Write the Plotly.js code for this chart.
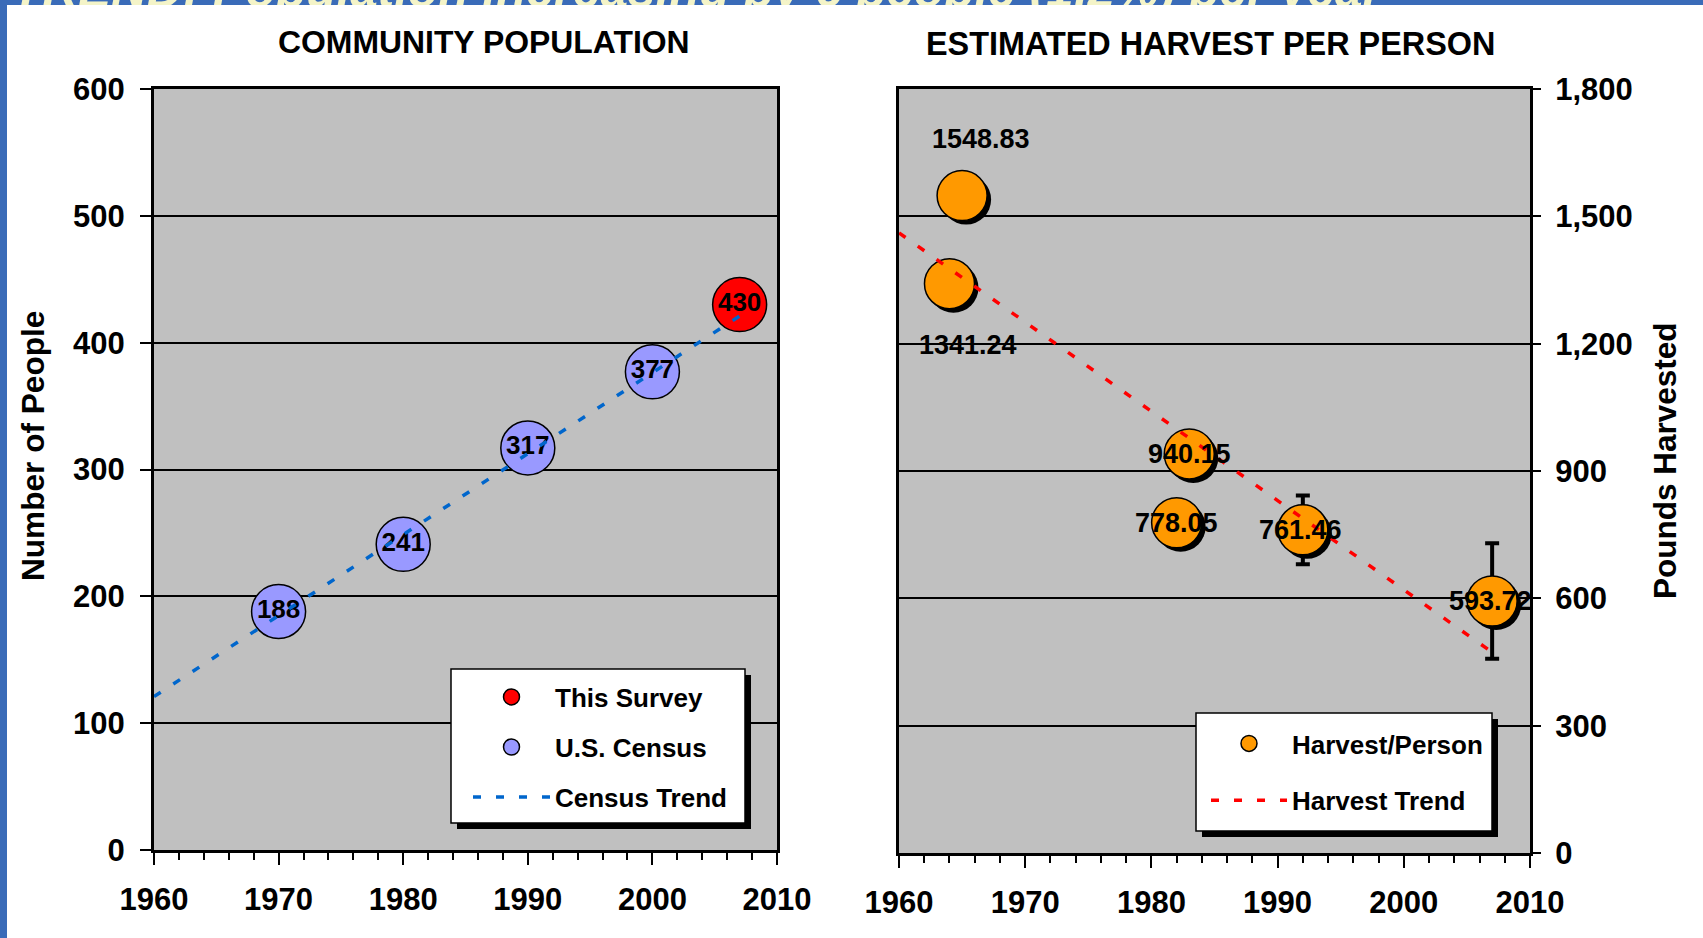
<!DOCTYPE html>
<html><head><meta charset="utf-8">
<script src="https://cdn.plot.ly/plotly-3.0.1.min.js"></script>
<style>
html,body{margin:0;padding:0;width:1703px;height:938px;overflow:hidden;background:rgb(58,107,184);}
#hdr{position:absolute;left:12px;top:-35px;font:italic bold 49.5px/49.5px "Liberation Sans",Arial,sans-serif;color:#F4F4C8;white-space:nowrap;}
#plot{position:absolute;left:7px;top:5px;width:1696px;height:933px;}
</style></head><body>
<div id="hdr">TREND: Population increasing by 6 people (1.2%) per year</div>
<div id="plot"></div>
<script>
// ---- data ----
const surveyYears = [2007];
const surveyPop = [430];
const censusYears = [1970, 1980, 1990, 2000];
const censusPop = [188, 241, 317, 377];
const censusTrendYears = [1960, 2007];
const censusTrendPop = [121, 421];

const harvestYears = [1964, 1965, 1982, 1983, 1992, 2007];
const harvestLbs = [1341.24, 1548.83, 778.05, 940.15, 761.46, 593.72];
const harvestErr = [0, 0, 0, 0, 81, 136];
const harvestTrendYears = [1960, 2007];
const harvestTrendLbs = [1461, 473];

const xTickVals = [1960, 1970, 1980, 1990, 2000, 2010];

// ---- layout helpers (pixel -> paper) ----
const W = 1696, H = 933, L = 147, R = 173, T = 84, B = 85;
const PW = W - L - R, PH = H - T - B;
const px = x => (x - L) / PW;
const py = y => (H - B - y) / PH;
const F = '"Liberation Sans", Arial, sans-serif';
const bold = (s) => ({family: F, size: s, weight: 700, color: '#000'});

const xBase = {
  range: [1960, 2010], tickvals: xTickVals, ticks: 'outside', ticklen: 12, tickwidth: 2, tickcolor: '#000',
  minor: {dtick: 2, ticks: 'outside', ticklen: 7, tickwidth: 2, tickcolor: '#000', showgrid: false},
  showline: true, linewidth: 3, linecolor: '#000', mirror: true, showgrid: false, zeroline: false,
  tickfont: bold(31), ticklabelstandoff: 8, fixedrange: true
};
const yBase = {
  ticks: 'outside', tickwidth: 2, tickcolor: '#000', showline: true, linewidth: 3, linecolor: '#000', mirror: true,
  showgrid: true, gridcolor: '#000', gridwidth: 2, zeroline: false, tickfont: bold(31), fixedrange: true
};

const traces = [
  {name: 'This Survey', x: surveyYears, y: surveyPop, type: 'scatter', mode: 'markers',
   marker: {size: 54, color: '#FF0000', line: {color: '#000', width: 1.5}},
   legend: 'legend', legendgroup: 'a', xaxis: 'x', yaxis: 'y', hoverinfo: 'skip'},
  {name: 'U.S. Census', x: censusYears, y: censusPop, type: 'scatter', mode: 'markers',
   marker: {size: 54, color: '#9999FF', line: {color: '#000', width: 1.5}},
   legend: 'legend', legendgroup: 'b', xaxis: 'x', yaxis: 'y', hoverinfo: 'skip'},
  {x: censusYears.concat(surveyYears), y: censusPop.concat(surveyPop), type: 'scatter', mode: 'text',
   text: censusPop.concat(surveyPop).map(String), textposition: 'middle center', textfont: bold(26),
   showlegend: false, xaxis: 'x', yaxis: 'y', hoverinfo: 'skip'},
  {name: 'Census Trend', x: censusTrendYears, y: censusTrendPop, type: 'scatter', mode: 'lines',
   line: {color: '#0066CC', width: 3.5, dash: '8px,15px'},
   legend: 'legend', legendgroup: 'c', xaxis: 'x', yaxis: 'y', hoverinfo: 'skip'},

  // invisible anchor trace so the right-hand base subplot (x2/y2) exists
  {x: harvestYears, y: harvestLbs, type: 'scatter', mode: 'markers', marker: {size: 1, opacity: 0},
   showlegend: false, xaxis: 'x2', yaxis: 'y2', hoverinfo: 'skip'},
  // shadow of harvest markers (same data, drawn through offset overlay axes)
  {x: harvestYears, y: harvestLbs, type: 'scatter', mode: 'markers',
   marker: {size: 50, color: '#000'}, showlegend: false, xaxis: 'x3', yaxis: 'y3', hoverinfo: 'skip'},
  {name: 'Harvest/Person', x: harvestYears, y: harvestLbs, type: 'scatter', mode: 'markers',
   marker: {size: 50, color: '#FF9900', line: {color: '#000', width: 1.5}},
   error_y: {type: 'data', array: harvestErr, visible: true, color: '#000', thickness: 4, width: 7},
   legend: 'legend2', legendgroup: 'd', xaxis: 'x4', yaxis: 'y4', hoverinfo: 'skip'},
  {name: 'Harvest Trend', x: harvestTrendYears, y: harvestTrendLbs, type: 'scatter', mode: 'lines',
   line: {color: '#FF0000', width: 3.5, dash: '8px,15px'},
   legend: 'legend2', legendgroup: 'e', xaxis: 'x4', yaxis: 'y4', hoverinfo: 'skip'}
];

// harvest value labels (style offsets only)
const labelShiftX = [19, 19, 0, 0, -2, -2];
const labelShiftY = [-61, 57, 0, 0, 0, 0];
const annotations = harvestYears.map((yr, i) => ({
  x: yr, y: harvestLbs[i], xref: 'x4', yref: 'y4', text: harvestLbs[i].toFixed(2), showarrow: false,
  xshift: labelShiftX[i], yshift: labelShiftY[i], font: bold(27), xanchor: 'center', yanchor: 'middle'
}));
annotations.push(
  {text: 'COMMUNITY POPULATION', xref: 'paper', yref: 'paper', x: px(476.5), y: py(36.5), showarrow: false,
   xanchor: 'center', yanchor: 'middle', font: bold(31.9)},
  {text: 'ESTIMATED HARVEST PER PERSON', xref: 'paper', yref: 'paper', x: px(1203), y: py(39.5), showarrow: false,
   xanchor: 'center', yanchor: 'middle', font: bold(32.4)},
  {text: 'Number of People', xref: 'paper', yref: 'paper', x: px(26), y: py(441), showarrow: false,
   textangle: -90, xanchor: 'center', yanchor: 'middle', font: bold(31.6)},
  {text: 'Pounds Harvested', xref: 'paper', yref: 'paper', x: px(1658), y: py(455), showarrow: false,
   textangle: -90, xanchor: 'center', yanchor: 'middle', font: bold(31.5)}
);

const box = (x0, y0, x1, y1, fill, lw) => ({type: 'rect', xref: 'paper', yref: 'paper', layer: 'above',
  x0: px(x0), x1: px(x1), y0: py(y1), y1: py(y0), fillcolor: fill, line: {color: '#000', width: lw}});
const shapes = [
  box(450, 670, 744, 824, '#000', 0),
  box(444, 664, 738, 818, '#fff', 1.5),
  box(1195, 714, 1491, 832, '#000', 0),
  box(1189, 708, 1485, 826, '#fff', 1.5)
];

const legendBase = {bgcolor: 'rgba(0,0,0,0)', borderwidth: 0, font: bold(26), traceorder: 'grouped',
  xanchor: 'left', yanchor: 'top', itemsizing: 'trace', xref: 'paper', yref: 'paper', itemclick: false, itemdoubleclick: false};

const layout = {
  width: W, height: H, margin: {l: L, r: R, t: T, b: B, pad: 0},
  paper_bgcolor: '#fff', plot_bgcolor: '#C0C0C0', showlegend: true,
  xaxis: Object.assign({}, xBase, {domain: [0, px(770)], anchor: 'y'}),
  yaxis: Object.assign({}, yBase, {domain: [py(845), 1], range: [0, 600], dtick: 100, ticklen: 11,
    ticklabelstandoff: 9, anchor: 'x'}),
  xaxis2: Object.assign({}, xBase, {domain: [px(892), 1], anchor: 'y2'}),
  yaxis2: Object.assign({}, yBase, {domain: [0, 1], range: [0, 1800], dtick: 300, tickformat: ',d', ticklen: 8,
    side: 'right', ticklabelstandoff: 8, anchor: 'x2'}),
  xaxis3: {overlaying: 'x2', range: [1960 - 0.317, 2010 - 0.317], visible: false, anchor: 'y3', fixedrange: true},
  yaxis3: {overlaying: 'y2', range: [9.43, 1809.43], visible: false, anchor: 'x3', fixedrange: true},
  xaxis4: {overlaying: 'x2', range: [1960, 2010], visible: false, anchor: 'y4', fixedrange: true},
  yaxis4: {overlaying: 'y2', range: [0, 1800], visible: false, anchor: 'x4', fixedrange: true},
  legend: Object.assign({}, legendBase, {x: px(461), y: py(668.5), itemwidth: 77, tracegroupgap: 13.3}),
  legend2: Object.assign({}, legendBase, {x: px(1199), y: py(715), itemwidth: 76, tracegroupgap: 20}),
  shapes: shapes,
  annotations: annotations
};

Plotly.newPlot('plot', traces, layout, {displayModeBar: false, staticPlot: true});
</script>
</body></html>
